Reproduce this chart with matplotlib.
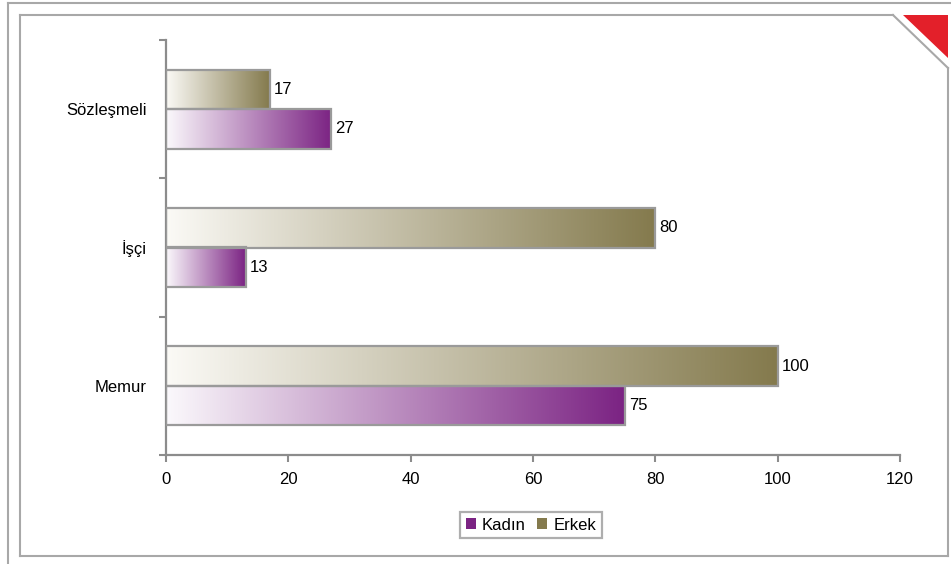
import matplotlib
matplotlib.use("Agg")
import matplotlib.pyplot as plt
import numpy as np
from matplotlib.colors import LinearSegmentedColormap
from matplotlib.patches import Rectangle, Polygon
from matplotlib.lines import Line2D

categories = ["Memur", "İşçi", "Sözleşmeli"]
kadin = [75, 13, 27]
erkek = [100, 80, 17]
series_names = ["Kadın", "Erkek"]
xticks = [0, 20, 40, 60, 80, 100, 120]

col_k = "#7B2383"
col_e = "#847A4D"
edge = "#9A9A9A"
FS = 12

plt.rcParams['font.family'] = ['Liberation Sans', 'DejaVu Sans']

W, H = 951, 564
fig = plt.figure(figsize=(W / 100, H / 100), dpi=100)
ax = fig.add_axes([166 / W, 1 - 455 / H, (900 - 166) / W, (455 - 40) / H])

cm_k = LinearSegmentedColormap.from_list("k", ["#FBF9FC", col_k])
cm_e = LinearSegmentedColormap.from_list("e", ["#FBFAF6", col_e])
grad = np.linspace(0, 1, 256).reshape(1, -1)

bh = 0.285
for i, cat in enumerate(categories):
    for val, cmap, y0 in ((kadin[i], cm_k, i - bh), (erkek[i], cm_e, i)):
        ax.imshow(grad, cmap=cmap, extent=[0, val, y0, y0 + bh], aspect='auto',
                  interpolation='bicubic', zorder=2)
        ax.add_patch(Rectangle((0, y0), val, bh, facecolor='none', edgecolor=edge,
                               linewidth=1.6, zorder=3))
        ax.annotate(str(val), (val, y0 + bh / 2), xytext=(3, 0), textcoords='offset points',
                    va='center', ha='left', fontsize=FS, color='black')

ax.set_xlim(0, 120)
ax.set_ylim(-0.5, 2.5)
ax.set_xticks(xticks)
ax.set_xticklabels([str(t) for t in xticks], fontsize=FS)
ax.set_yticks(range(len(categories)))
ax.set_yticklabels(categories, fontsize=FS)
ax.set_yticks([-0.5, 0.5, 1.5, 2.5], minor=True)
ax.tick_params(axis='y', which='major', length=0, pad=14)
ax.tick_params(axis='y', which='minor', length=5, width=1.5, color='#8C8C8C')
ax.tick_params(axis='x', length=5, width=1.5, color='#8C8C8C', pad=7)
for s in ['top', 'right']:
    ax.spines[s].set_visible(False)
for s in ['left', 'bottom']:
    ax.spines[s].set_color('#8C8C8C')
    ax.spines[s].set_linewidth(1.6)

handles = [Rectangle((0, 0), 1, 1, facecolor=col_k), Rectangle((0, 0), 1, 1, facecolor=col_e)]
leg = fig.legend(handles, series_names, loc='center', bbox_to_anchor=(531 / W, 1 - 525 / H),
                 ncol=2, fontsize=FS, frameon=True, fancybox=False, handlelength=0.6,
                 handleheight=0.6, handletextpad=0.35, columnspacing=0.7, borderpad=0.35)
leg.get_frame().set_edgecolor('#9A9A9A')
leg.get_frame().set_linewidth(1.6)

def fx(x):
    return x / W

def fy(y):
    return 1 - y / H

lc = '#A8A8A8'
lines = [
    ([8, 951], [3, 3]),
    ([8, 8], [3, 564]),
    ([20, 20], [15, 556]),
    ([20, 893], [15, 15]),
    ([893, 948], [15, 68]),
    ([948, 948], [68, 556]),
    ([20, 948], [556, 556]),
]
for xs, ys in lines:
    fig.add_artist(Line2D([fx(x) for x in xs], [fy(y) for y in ys], color=lc, linewidth=1.5))
fig.add_artist(Polygon([(fx(903), fy(15)), (fx(948), fy(15)), (fx(948), fy(58))],
                       closed=True, facecolor='#E3202A', edgecolor='none'))

fig.savefig("out.png", dpi=100)
